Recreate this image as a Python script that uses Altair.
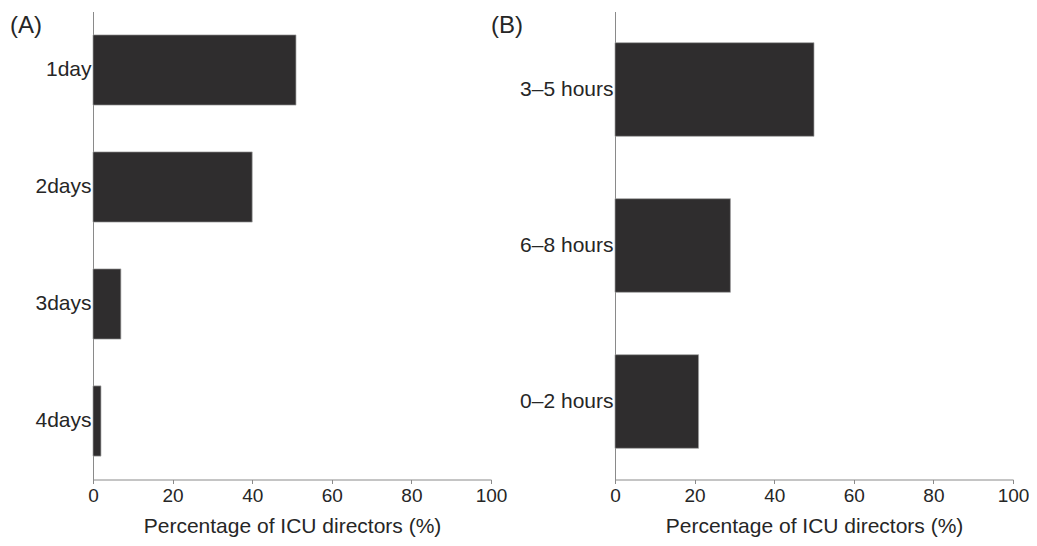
import altair as alt
import pandas as pd

# ---- data ----
days = ["1day", "2days", "3days", "4days"]
days_pct = [51, 40, 7, 2]
hours = ["3–5 hours", "6–8 hours", "0–2 hours"]
hours_pct = [50, 29, 21]
x_ticks = [0, 20, 40, 60, 80, 100]
x_title = "Percentage of ICU directors (%)"

FONT = "Liberation Sans"
TEXT = "#262626"
AXIS = "#8a8a8a"
BAR = "#2f2d2e"


def panel(cats, vals, tag, tag_x):
    df = pd.DataFrame({"cat": cats, "pct": vals})
    bars = alt.Chart(df).mark_bar(
        color=BAR, stroke="#a0a0a0", strokeWidth=0.7
    ).encode(
        x=alt.X(
            "pct:Q",
            scale=alt.Scale(domain=[0, 100], nice=False, zero=True),
            axis=alt.Axis(
                values=x_ticks, title=x_title, tickSize=4, labelPadding=3,
                titlePadding=10, tickColor=AXIS, labelFlush=False,
                labelFontSize=19, titleFontSize=21,
            ),
        ),
        y=alt.Y(
            "cat:N", sort=cats,
            scale=alt.Scale(paddingInner=0.4, paddingOuter=0.2),
            axis=alt.Axis(title=None, ticks=False, labelPadding=2, labelFontSize=21),
        ),
    )
    lab = alt.Chart(pd.DataFrame({"t": [tag]})).mark_text(
        align="left", baseline="top", font=FONT, fontSize=24, color=TEXT
    ).encode(x=alt.value(tag_x), y=alt.value(2), text="t:N")
    return alt.layer(bars, lab).properties(width=398, height=468)


a = panel(days, days_pct, "(A)", -83)
b = panel(hours, hours_pct, "(B)", -124)

chart = alt.hconcat(a, b, spacing=124, bounds="flush").properties(
    padding={"left": 2, "top": 3.5, "right": 0, "bottom": 1}
).configure_view(stroke=None).configure_axis(
    grid=False,
    labelFont=FONT, labelColor=TEXT,
    titleFont=FONT, titleFontWeight="normal", titleColor=TEXT,
    domainColor=AXIS, domainWidth=1,
)

chart.save("out.html", embed_options={"renderer": "svg", "actions": False})
